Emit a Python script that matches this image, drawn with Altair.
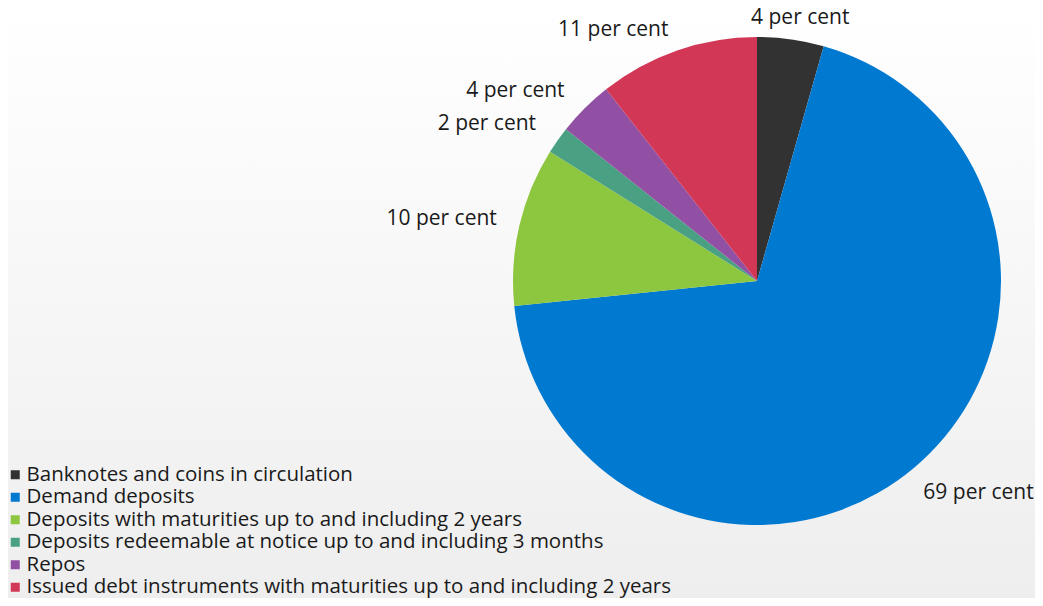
import altair as alt
import pandas as pd

categories = [
    "Banknotes and coins in circulation",
    "Demand deposits",
    "Deposits with maturities up to and including 2 years",
    "Deposits redeemable at notice up to and including 3 months",
    "Repos",
    "Issued debt instruments with maturities up to and including 2 years",
]
values = [4.4, 68.9, 10.5, 1.8, 3.7, 10.6]
labels = ["4 per cent", "69 per cent", "10 per cent", "2 per cent", "4 per cent", "11 per cent"]
colors = ["#323232", "#0079d1", "#8dc63f", "#4aa082", "#9150a3", "#d23756"]

df = pd.DataFrame({"category": categories, "value": values, "label": labels, "idx": list(range(len(categories)))})

W, H = 1027, 590
CX, CY = 749, 273
R = 244
R0 = 256
FONT = "Open Sans"

base = alt.Chart(df)

bg = alt.Chart(pd.DataFrame({"a": [0]})).mark_rect(
    color=alt.Gradient(
        gradient="linear",
        stops=[alt.GradientStop(color="#ffffff", offset=0), alt.GradientStop(color="#eeeeee", offset=1)],
        x1=0, x2=0, y1=0, y2=1,
    )
).encode(x=alt.value(0), x2=alt.value(W), y=alt.value(0), y2=alt.value(H))

pie = base.mark_arc(outerRadius=R).encode(
    theta=alt.Theta("value:Q", stack=True),
    color=alt.Color(
        "category:N",
        scale=alt.Scale(domain=categories, range=colors),
        legend=alt.Legend(
            title=None, orient="none", legendX=-3, legendY=456.5, padding=0,
            symbolType="square", symbolSize=81, symbolStrokeWidth=0, symbolOpacity=1,
            labelFont=FONT, labelFontSize=20.5, labelColor="#1a1a1a", labelOffset=1,
            rowPadding=1.5, labelLimit=900,
        ),
    ),
    order=alt.Order("idx:Q"),
    x=alt.value(CX), y=alt.value(CY),
)

text = base.transform_joinaggregate(total="sum(value)").transform_window(
    cum="sum(value)", sort=[alt.SortField("idx")], frame=[None, 0]
).transform_calculate(
    mid="(datum.cum - datum.value/2)/datum.total*2*PI",
).transform_calculate(
    hw="length(datum.label)*5.0",
    s="sin(datum.mid)",
    c="cos(datum.mid)",
).transform_calculate(
    ux="clamp(4*(datum.s - 0.1*(datum.s > 0 ? 1 : -1)), -1, 1)",
    uy="clamp(2*datum.c, -1, 1)",
).transform_calculate(
    px=f"{R0}*datum.s + (datum.hw + (datum.ux > 0 ? 2 : 11))*datum.ux",
    py=f"-{R0}*datum.c - (datum.uy > 0 ? 9 : 16)*datum.uy",
).transform_calculate(
    th="atan2(datum.px, -datum.py)",
    rr="sqrt(datum.px*datum.px + datum.py*datum.py)",
).mark_text(font=FONT, fontSize=21, color="#1a1a1a", align="center", baseline="middle").encode(
    x=alt.value(CX), y=alt.value(CY),
    theta=alt.Theta("th:Q", scale=None),
    radius=alt.Radius("rr:Q", scale=None),
    text="label:N",
)

chart = alt.layer(bg, pie, text).resolve_scale(theta="independent").properties(
    width=W, height=H, padding=0, autosize="none"
).configure_view(stroke=None)

chart.save("out.html", embed_options={"renderer": "svg", "actions": False})
